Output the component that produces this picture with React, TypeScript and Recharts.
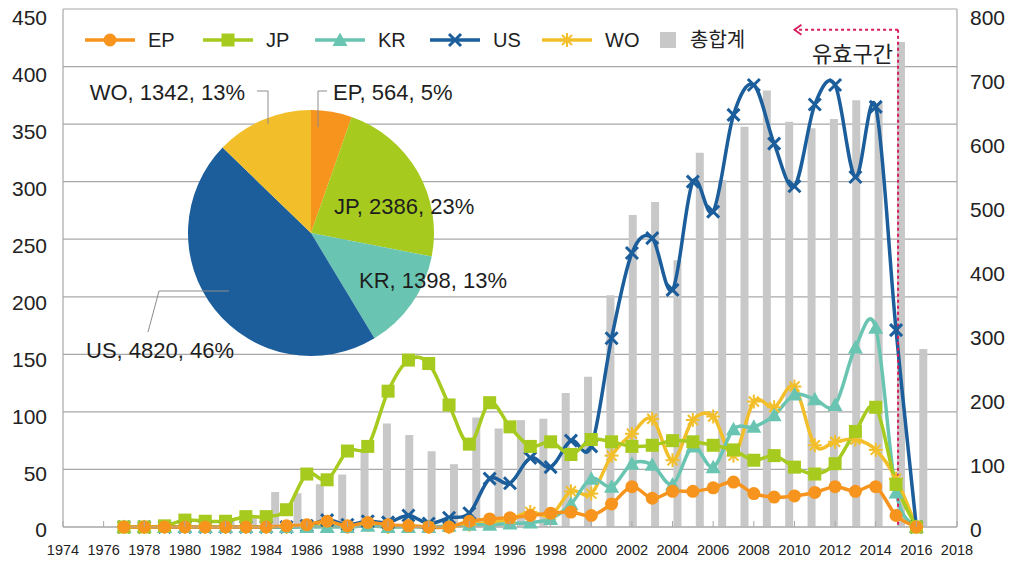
import React from 'react';
import {
  ComposedChart, Line, Bar, XAxis, YAxis, CartesianGrid, Legend, ReferenceLine,
  PieChart, Pie, Cell,
} from 'recharts';

// ---------- data ----------
const years = [
  1977, 1978, 1979, 1980, 1981, 1982, 1983, 1984, 1985, 1986,
  1987, 1988, 1989, 1990, 1991, 1992, 1993, 1994, 1995, 1996,
  1997, 1998, 1999, 2000, 2001, 2002, 2003, 2004, 2005, 2006,
  2007, 2008, 2009, 2010, 2011, 2012, 2013, 2014, 2015, 2016,
];
const epValues = [
  0, 0, 0, 0, 0, 0, 0, 0, 1, 2,
  5, 1, 4, 2, 1, 0, 0, 5, 7, 8,
  10, 12, 13, 10, 20, 35, 25, 31, 31, 34,
  39, 29, 26, 27, 30, 35, 31, 35, 10, 0,
];
const jpValues = [
  0, 0, 1, 6, 5, 5, 9, 9, 15, 46,
  41, 66, 70, 118, 145, 142, 106, 72, 108, 87,
  70, 74, 63, 76, 74, 70, 71, 75, 74, 71,
  67, 58, 62, 52, 46, 55, 83, 104, 37, 0,
];
const krValues = [
  0, 0, 0, 0, 0, 0, 0, 0, 0, 0,
  0, 0, 1, 0, 0, 0, 1, 2, 2, 3,
  4, 7, 20, 42, 35, 55, 54, 37, 70, 52,
  85, 87, 97, 115, 111, 106, 156, 173, 30, 0,
];
const usValues = [
  0, 0, 0, 0, 0, 0, 0, 0, 0, 1,
  6, 2, 5, 4, 10, 3, 8, 12, 42, 38,
  60, 52, 75, 70, 164, 238, 251, 206, 300, 274,
  358, 384, 333, 296, 367, 384, 304, 365, 171, 0,
];
const woValues = [
  0, 0, 0, 0, 0, 0, 0, 0, 0, 1,
  3, 0, 2, 0, 1, 0, 0, 2, 4, 7,
  13, 10, 31, 29, 62, 81, 94, 58, 93, 96,
  62, 109, 104, 122, 71, 74, 76, 67, 42, 0,
];
const totalValues = [
  0, 0, 1, 6, 5, 5, 9, 9, 16, 54,
  52, 66, 81, 120, 160, 142, 117, 97, 169, 152,
  165, 167, 207, 232, 358, 482, 502, 412, 578, 536,
  618, 674, 626, 616, 630, 659, 655, 749, 275, 0,
];
const xTicks = [
  1974, 1976, 1978, 1980, 1982, 1984, 1986, 1988, 1990, 1992, 1994, 1996,
  1998, 2000, 2002, 2004, 2006, 2008, 2010, 2012, 2014, 2016, 2018,
];
const leftTicks = [0, 50, 100, 150, 200, 250, 300, 350, 400, 450];
const rightTicks = [0, 100, 200, 300, 400, 500, 600, 700, 800];
const pieNames = ['EP', 'JP', 'KR', 'US', 'WO'];
const pieValues = [564, 2386, 1398, 4820, 1342];
const seriesNames = ['EP', 'JP', 'KR', 'US', 'WO'];
const totalName = '총합계';
const zoneLabel = '유효구간';
const zoneStart = 2010;
const zoneEnd = 2015.1;
const zoneLevel = 432;

// ---------- styles ----------
const COLORS: Record<string, string> = {
  EP: '#F7941D',
  JP: '#A6CA1E',
  KR: '#69C5B1',
  US: '#1B5E9B',
  WO: '#F2BF2A',
};
const BAR_COLOR = '#C8C8C8';
const GRID = '#A8A8A8';
const RED = '#D81B5A';
const FONT = '"Liberation Sans", Arial, "Noto Sans CJK KR", sans-serif';
const X_TICK_MARGIN = 17.5;
const PLOT_TOP = 9;
const PLOT_BOTTOM = 527;

const rows = years.map((y, i) => ({
  year: y,
  cat: String(y),
  EP: epValues[i],
  JP: jpValues[i],
  KR: krValues[i],
  US: usValues[i],
  WO: woValues[i],
  total: totalValues[i],
}));
const pieRows = pieNames.map((n, i) => ({ name: n, value: pieValues[i] }));

// Excel-like smoothed line (Catmull-Rom through the points)
const excelSmooth: any = (context: any) => {
  let pts: number[][] = [];
  return {
    areaStart() {},
    areaEnd() {},
    lineStart() { pts = []; },
    point(x: number, y: number) { pts.push([+x, +y]); },
    lineEnd() {
      const n = pts.length;
      if (!n) return;
      context.moveTo(pts[0][0], pts[0][1]);
      for (let i = 0; i < n - 1; i++) {
        const p0 = pts[i - 1] || pts[i];
        const p1 = pts[i];
        const p2 = pts[i + 1];
        const p3 = pts[i + 2] || p2;
        context.bezierCurveTo(
          p1[0] + (p2[0] - p0[0]) / 6, p1[1] + (p2[1] - p0[1]) / 6,
          p2[0] - (p3[0] - p1[0]) / 6, p2[1] - (p3[1] - p1[1]) / 6,
          p2[0], p2[1],
        );
      }
    },
  };
};

function markerShape(name: string, cx: number, cy: number, key?: any) {
  const c = COLORS[name];
  switch (name) {
    case 'EP':
      return <circle key={key} cx={cx} cy={cy} r={6.5} fill={c} />;
    case 'JP':
      return <rect key={key} x={cx - 6.5} y={cy - 6.5} width={13} height={13} fill={c} />;
    case 'KR':
      return <polygon key={key} points={`${cx},${cy - 7.5} ${cx + 7.5},${cy + 6} ${cx - 7.5},${cy + 6}`} fill={c} />;
    case 'US':
      return (
        <g key={key} stroke={c} strokeWidth={3}>
          <line x1={cx - 6} y1={cy - 6} x2={cx + 6} y2={cy + 6} />
          <line x1={cx - 6} y1={cy + 6} x2={cx + 6} y2={cy - 6} />
        </g>
      );
    default:
      return (
        <g key={key} stroke={c} strokeWidth={2}>
          <line x1={cx - 7} y1={cy} x2={cx + 7} y2={cy} />
          <line x1={cx} y1={cy - 7} x2={cx} y2={cy + 7} />
          <line x1={cx - 5} y1={cy - 5} x2={cx + 5} y2={cy + 5} />
          <line x1={cx - 5} y1={cy + 5} x2={cx + 5} y2={cy - 5} />
        </g>
      );
  }
}

const makeDot = (name: string) => (p: any) => {
  if (p.cx == null || p.cy == null) return <g key={`${name}-${p.index}`} />;
  return markerShape(name, p.cx, p.cy, `${name}-${p.index}`);
};

// x tick: label below the axis plus a short inward tick mark
const YearTick = (p: any) => {
  const { x, y, payload } = p;
  const axisY = y - X_TICK_MARGIN;
  return (
    <g>
      <line x1={x} x2={x} y1={axisY} y2={axisY - 6} stroke={GRID} strokeWidth={1} />
      <text x={x} y={y} dy="0.71em" textAnchor="middle" fontSize={14.5} fill="#222" fontFamily={FONT}>
        {payload.value}
      </text>
    </g>
  );
};

// y tick: labels sit slightly below their gridline, more so near the top
const makeValueTick = (anchor: 'start' | 'end') => (p: any) => {
  const { x, y, payload } = p;
  const shift = 3 + ((PLOT_BOTTOM - y) / (PLOT_BOTTOM - PLOT_TOP)) * 6;
  return (
    <text x={x} y={y + shift} dy="0.355em" textAnchor={anchor} fontSize={21} fill="#222" fontFamily={FONT}>
      {payload.value}
    </text>
  );
};
const LeftTick = makeValueTick('end');
const RightTick = makeValueTick('start');

// legend layout (item starting x positions in px)
const legendLineX = [85, 203, 315, 430, 542];
const legendTotalX = 660;

const renderLegend = () => (
  <svg width={1024} height={36} style={{ display: 'block', overflow: 'visible' }}>
    {seriesNames.map((n, i) => {
      const x = legendLineX[i];
      return (
        <g key={n}>
          <line x1={x} y1={18} x2={x + 50} y2={18} stroke={COLORS[n]} strokeWidth={3.5} />
          {markerShape(n, x + 25, 18)}
          <text x={x + 63} y={18} dominantBaseline="central" fontSize={20} fill="#222" fontFamily={FONT}>{n}</text>
        </g>
      );
    })}
    <rect x={legendTotalX} y={10} width={16} height={16} fill={BAR_COLOR} />
    <text x={legendTotalX + 30} y={18} dominantBaseline="central" fontSize={20} fill="#222" fontFamily={FONT}>{totalName}</text>
  </svg>
);

const ZoneArrow = (p: any) => {
  const { x1, y1, x2, y2 } = p;
  return (
    <g>
      <line x1={x1} y1={y1} x2={x2} y2={y2} stroke={RED} strokeWidth={2} strokeDasharray="3 3" />
      <polyline points={`${x2 + 7},${y2 - 5} ${x2},${y2} ${x2 + 7},${y2 + 5}`} fill="none" stroke={RED} strokeWidth={1.8} />
      <text x={x1 - 5} y={y1 + 25} textAnchor="end" dominantBaseline="central" fontSize={22} fill="#222" fontFamily={FONT}>{zoneLabel}</text>
    </g>
  );
};

// pie label placement relative to pie centre
const pieLabelLayout: { dx: number; dy: number; anchor: string; leader?: number[][] }[] = [
  { dx: 22, dy: -141, anchor: 'start', leader: [[7, -106], [7, -142], [16, -142]] },
  { dx: 23, dy: -27, anchor: 'start' },
  { dx: 48, dy: 47, anchor: 'start' },
  { dx: -225, dy: 117, anchor: 'start', leader: [[-163, 99], [-152, 58], [-82, 58]] },
  { dx: -66, dy: -141, anchor: 'end', leader: [[-54, -142], [-43, -142], [-43, -109]] },
];

const renderPieLabel = (p: any) => {
  const L = pieLabelLayout[p.index];
  const cx = p.cx, cy = p.cy;
  const txt = `${p.name}, ${p.value}, ${Math.round(p.percent * 100)}%`;
  return (
    <g key={`pl-${p.index}`}>
      {L.leader && (
        <polyline
          points={L.leader.map((q) => `${cx + q[0]},${cy + q[1]}`).join(' ')}
          fill="none" stroke="#8C8C8C" strokeWidth={1}
        />
      )}
      <text x={cx + L.dx} y={cy + L.dy} textAnchor={L.anchor as any} dominantBaseline="central"
        fontSize={22} fill="#1E1E1E" fontFamily={FONT}>{txt}</text>
    </g>
  );
};

const drawOrder = ['WO', 'US', 'KR', 'JP', 'EP'];

export default function App() {
  return (
    <div style={{ position: 'absolute', left: 0, top: 0, width: 1024, height: 571, background: '#fff', fontFamily: FONT }}>
      <ComposedChart width={1024} height={571} data={rows} margin={{ top: PLOT_TOP, right: 0, bottom: 0, left: 0 }}>
        <CartesianGrid vertical={false} stroke={GRID} strokeWidth={1.2} xAxisId="year" yAxisId="left" />
        <XAxis
          xAxisId="year" dataKey="year" type="number" domain={[1974, 2018]} ticks={xTicks}
          interval={0} height={44} tickSize={0} tickMargin={X_TICK_MARGIN}
          tick={<YearTick />}
          axisLine={{ stroke: GRID, strokeWidth: 1.2 }} tickLine={false}
        />
        <XAxis xAxisId="cat" dataKey="cat" type="category" orientation="top" height={0} hide />
        <YAxis
          yAxisId="left" domain={[0, 450]} ticks={leftTicks} interval={0} width={63}
          tickLine={false} tickMargin={10} axisLine={{ stroke: GRID, strokeWidth: 1.2 }}
          tick={LeftTick}
        />
        <YAxis
          yAxisId="right" orientation="right" domain={[0, 800]} ticks={rightTicks} interval={0} width={67}
          tickLine={false} tickMargin={7} axisLine={{ stroke: GRID, strokeWidth: 1.2 }}
          tick={RightTick}
        />
        <Legend
          content={renderLegend} layout="horizontal" verticalAlign="middle" align="center"
          wrapperStyle={{ top: 22, left: 0, width: 1024, height: 36 }}
        />
        <Bar xAxisId="cat" yAxisId="right" dataKey="total" name={totalName} fill={BAR_COLOR} barSize={8} isAnimationActive={false} />
        {drawOrder.map((n) => (
          <Line
            key={n} xAxisId="year" yAxisId="left" dataKey={n} name={n} type={excelSmooth}
            stroke={COLORS[n]} strokeWidth={3.5} dot={makeDot(n)} activeDot={false}
            isAnimationActive={false}
          />
        ))}
        <ReferenceLine
          xAxisId="year" yAxisId="left"
          segment={[{ x: zoneEnd, y: zoneLevel }, { x: zoneEnd, y: 0 }]}
          stroke={RED} strokeWidth={2} strokeDasharray="3 3"
        />
        <ReferenceLine
          xAxisId="year" yAxisId="left"
          segment={[{ x: zoneEnd, y: zoneLevel }, { x: zoneStart, y: zoneLevel }]}
          shape={ZoneArrow}
        />
      </ComposedChart>
      <div style={{ position: 'absolute', left: 0, top: 0, pointerEvents: 'none' }}>
        <PieChart width={1024} height={571} margin={{ top: 0, right: 0, bottom: 0, left: 0 }}>
          <Pie
            data={pieRows} dataKey="value" nameKey="name" cx={311} cy={233} outerRadius={123}
            startAngle={90} endAngle={-270} stroke="none" label={renderPieLabel} labelLine={false}
            isAnimationActive={false}
          >
            {pieRows.map((r) => <Cell key={r.name} fill={COLORS[r.name]} />)}
          </Pie>
        </PieChart>
      </div>
    </div>
  );
}
